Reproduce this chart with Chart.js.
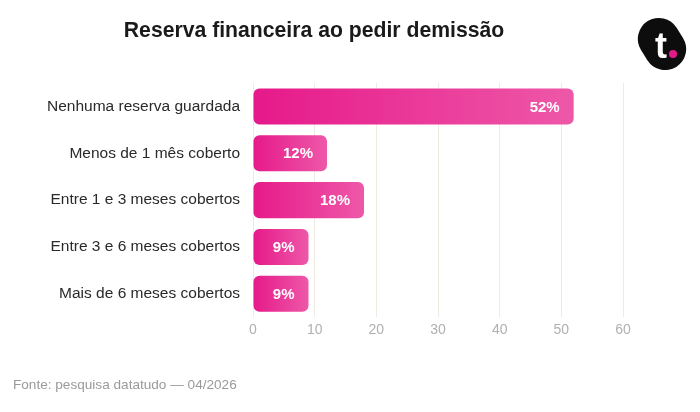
<!DOCTYPE html>
<html lang="pt-BR">
<head>
<meta charset="utf-8">
<script src="https://cdn.jsdelivr.net/npm/chart.js@4.4.1/dist/chart.umd.min.js"></script>
<style>
  html, body { margin:0; padding:0; background:#fff; }
  #wrap { position:relative; width:700px; height:412px; font-family:"Liberation Sans", Arial, sans-serif; }
  #title { position:absolute; left:0; width:628px; top:18px; text-align:center; font-size:21.2px; font-weight:bold; color:#1a1a1a; }
  #fonte { position:absolute; left:13px; top:377px; font-size:13.6px; color:#9a9a9a; }
  #logo { position:absolute; left:632px; top:14px; }
  canvas { position:absolute; left:0; top:0; }
</style>
</head>
<body>
<div id="wrap">
  <canvas id="c" width="700" height="412"></canvas>
  <div id="title">Reserva financeira ao pedir demissão</div>
  <svg id="logo" width="60" height="60" viewBox="0 0 60 60">
    <rect x="3" y="9" width="54" height="42" rx="21" fill="#0d0d0d" transform="rotate(58 30 30)"/>
    <text x="29" y="44" text-anchor="middle" font-family="Liberation Sans, Arial" font-weight="bold" font-size="36" fill="#fff">t</text>
    <circle cx="41" cy="40" r="4" fill="#e6198a"/>
  </svg>
  <div id="fonte">Fonte: pesquisa datatudo — 04/2026</div>
</div>
<script>
const categorias = ['Nenhuma reserva guardada', 'Menos de 1 mês coberto', 'Entre 1 e 3 meses cobertos', 'Entre 3 e 6 meses cobertos', 'Mais de 6 meses cobertos'];
const valores = [52, 12, 18, 9, 9];
const xTicks = [0, 10, 20, 30, 40, 50, 60];

function barGradient(ctx){
  const chart = ctx.chart;
  const x = chart.scales.x;
  if(!x || !chart.chartArea) return '#e91e8c';
  const v = ctx.raw ?? 0;
  const x0 = x.getPixelForValue(0), x1 = x.getPixelForValue(v);
  const g = chart.ctx.createLinearGradient(x0, 0, x1, 0);
  g.addColorStop(0, '#e6198a');
  g.addColorStop(1, '#ee58a8');
  return g;
}

const rotulos = {
  id: 'rotulos',
  afterDatasetsDraw(chart){
    const c = chart.ctx;
    const meta = chart.getDatasetMeta(0);
    c.save();
    c.fillStyle = '#fff';
    c.font = 'bold 15px "Liberation Sans", Arial, sans-serif';
    c.textAlign = 'right';
    c.textBaseline = 'middle';
    meta.data.forEach((bar, i) => {
      c.fillText(valores[i] + '%', bar.x - 14, bar.y + 1);
    });
    c.restore();
  }
};

new Chart(document.getElementById('c'), {
  type: 'bar',
  data: {
    labels: categorias,
    datasets: [{
      data: valores,
      backgroundColor: barGradient,
      borderRadius: 6,
      borderSkipped: false,
      categoryPercentage: 1,
      barPercentage: 0.77
    }]
  },
  options: {
    indexAxis: 'y',
    responsive: false,
    animation: false,
    layout: { padding: { top: 83, right: 77, bottom: 68, left: 0 } },
    plugins: { legend: { display: false }, tooltip: { enabled: false } },
    scales: {
      x: {
        min: 0, max: 60,
        afterBuildTicks: (s) => { s.ticks = xTicks.map(v => ({ value: v })); },
        grid: { color: '#efebe2', drawTicks: false },
        border: { display: false },
        ticks: { color: '#b0b0b0', padding: 5, font: { size: 14, family: '"Liberation Sans", Arial, sans-serif' } }
      },
      y: {
        grid: { display: false, drawTicks: false },
        border: { display: false },
        afterFit: (s) => { s.width = 253; },
        ticks: { color: '#2a2a2a', padding: 13, font: { size: 15.5, family: '"Liberation Sans", Arial, sans-serif' } }
      }
    }
  },
  plugins: [rotulos]
});
</script>
</body>
</html>
